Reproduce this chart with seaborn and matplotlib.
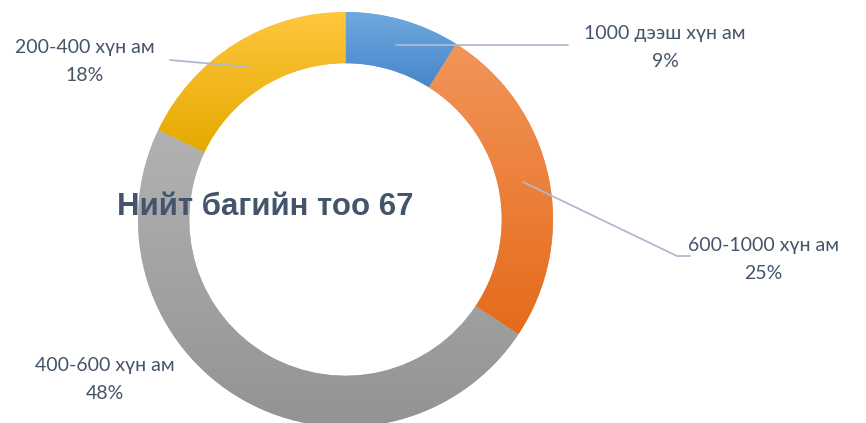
import numpy as np
import matplotlib
matplotlib.use("Agg")
import matplotlib.pyplot as plt
import seaborn as sns
from matplotlib.colors import to_rgb

# Өгөгдөл: багийн тоо хүн амын ангиллаар
ангилал = ["1000 дээш хүн ам", "600-1000 хүн ам", "400-600 хүн ам", "200-400 хүн ам"]
багийн_тоо = [6, 17, 32, 12]
хувь = ["9%", "25%", "48%", "18%"]
нийт = 67

# өнгө: (дээд, доод) градиент
өнгө_дээд = ["#6FA9DE", "#F2955A", "#B2B2B2", "#FFC73F"]
өнгө_доод = ["#4786CC", "#E56B1A", "#939393", "#E5A900"]

sns.set_theme(style="white")
plt.rcParams["font.family"] = ["Lato", "DejaVu Sans"]

W, H = 866, 423
fig = plt.figure(figsize=(W / 100, H / 100), dpi=100)
ax = fig.add_axes([0, 0, 1, 1])

cx, cy = 345.5, H - 219.5
R = 207.5
wedges, _ = ax.pie(багийн_тоо, startangle=90, counterclock=False,
                   center=(cx, cy), radius=R,
                   colors=sns.color_palette(өнгө_дээд),
                   wedgeprops=dict(width=R * 0.247, linewidth=0))

ax.set_aspect("equal")
ax.axis("off")

# шаантаг бүрд босоо градиент
for w, c1, c2 in zip(wedges, өнгө_дээд, өнгө_доод):
    bb = w.get_path().get_extents()
    t = np.linspace(0, 1, 256)[:, None]
    a, b = np.array(to_rgb(c2)), np.array(to_rgb(c1))
    img = (a[None, None, :] * (1 - t[..., None]) + b[None, None, :] * t[..., None])
    im = ax.imshow(img, extent=[bb.x0, bb.x1, bb.y0, bb.y1], origin="lower",
                   aspect="auto", interpolation="bilinear", zorder=2)
    im.set_clip_path(w)
ax.set_xlim(0, W)
ax.set_ylim(0, H)

текст_өнгө = "#44546A"
шугам_өнгө = "#AEBACB"

# шошгын байрлал (пиксел)
шошго_xy = [(665, 33), (763, 245), (105, 365), (85, 47)]
for (x, y), нэр, п in zip(шошго_xy, ангилал, хувь):
    ax.text(x, H - y, нэр, ha="center", va="center", fontsize=14, color=текст_өнгө, zorder=5)
    ax.text(x, H - y - 28, п, ha="center", va="center", fontsize=14, color=текст_өнгө, zorder=5)

# холбох шугамууд
ax.plot([396, 568], [H - 45, H - 45], color=шугам_өнгө, lw=1.3, zorder=4)
ax.plot([523, 677, 690], [H - 182, H - 256, H - 256], color=шугам_өнгө, lw=1.3, zorder=4)
ax.plot([170, 248], [H - 60, H - 67], color=шугам_өнгө, lw=1.3, zorder=4)

ax.text(265, H - 207, f"Нийт багийн тоо {нийт}", ha="center", va="center",
        fontsize=22.5, fontweight="bold", color=текст_өнгө,
        family=["Liberation Sans", "DejaVu Sans"], zorder=6)

fig.savefig("out.png", dpi=100)
